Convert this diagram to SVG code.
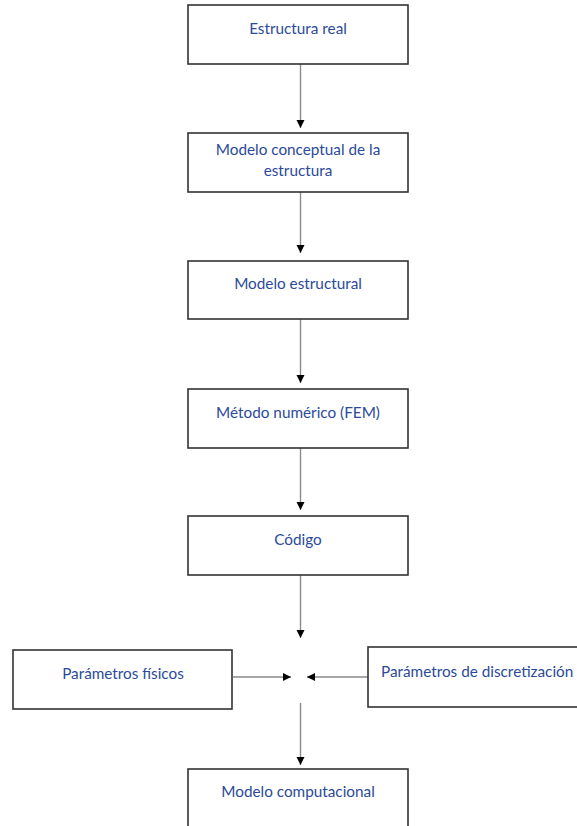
<svg xmlns="http://www.w3.org/2000/svg" width="577" height="826" viewBox="0 0 577 826">
<defs>
<style>
.box{fill:#fff;stroke:#333;stroke-width:1.6}
.t{font-family:Lato,"Open Sans","Liberation Sans",sans-serif;font-size:15.3px;fill:#2B4A9B;text-anchor:middle}
.tl{text-anchor:start}
.c{stroke:#8a8a8a;stroke-width:1.4;fill:none;marker-end:url(#ah)}
</style>
<marker id="ah" markerUnits="userSpaceOnUse" markerWidth="10" markerHeight="10" viewBox="0 0 10 10" refX="9" refY="5" orient="auto">
<path d="M1,1 L9,5 L1,9 Z" fill="#000"/>
</marker>
</defs>
<rect width="577" height="826" fill="#fff"/>
<g id="connectors">
<line class="c" x1="300.5" y1="64" x2="300.5" y2="128"/>
<line class="c" x1="300.5" y1="192" x2="300.5" y2="253"/>
<line class="c" x1="300.5" y1="319" x2="300.5" y2="383"/>
<line class="c" x1="300.5" y1="448" x2="300.5" y2="510"/>
<line class="c" x1="300.5" y1="575" x2="300.5" y2="638"/>
<line class="c" x1="233" y1="677" x2="291" y2="677"/>
<line class="c" x1="368" y1="677" x2="307" y2="677"/>
<line class="c" x1="300.5" y1="703" x2="300.5" y2="765"/>
</g>
<g id="n1"><rect class="box" x="188" y="5" width="220" height="59"/><text class="t" x="298" y="34">Estructura real</text></g>
<g id="n2"><rect class="box" x="188" y="133" width="220" height="59"/><text class="t" x="298" y="155">Modelo conceptual de la</text><text class="t" x="298" y="176">estructura</text></g>
<g id="n3"><rect class="box" x="188" y="261" width="220" height="58"/><text class="t" x="298" y="289">Modelo estructural</text></g>
<g id="n4"><rect class="box" x="188" y="389" width="220" height="59"/><text class="t" x="298" y="418">Método numérico (FEM)</text></g>
<g id="n5"><rect class="box" x="188" y="516" width="220" height="59"/><text class="t" x="298" y="545">Código</text></g>
<g id="n6"><rect class="box" x="13" y="650" width="219" height="59"/><text class="t" x="123" y="679">Parámetros físicos</text></g>
<g id="n7"><rect class="box" x="368" y="647" width="230" height="60"/><text class="t tl" x="381" y="677">Parámetros de discretización</text></g>
<g id="n8"><rect class="box" x="188" y="769" width="220" height="80"/><text class="t" x="298" y="797">Modelo computacional</text></g>
</svg>
